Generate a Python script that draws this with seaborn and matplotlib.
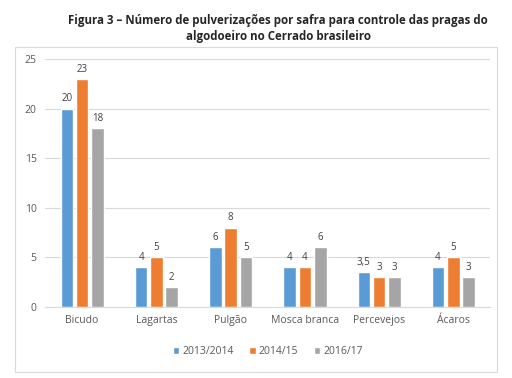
import pandas as pd
import seaborn as sns
import matplotlib.pyplot as plt
from matplotlib.patches import Rectangle

# Data
pragas = ['Bicudo', 'Lagartas', 'Pulgão', 'Mosca branca', 'Percevejos', 'Ácaros']
safras = ['2013/2014', '2014/15', '2016/17']
s2013 = [20, 4, 6, 4, 3.5, 4]
s2014 = [23, 5, 8, 4, 3, 5]
s2016 = [18, 2, 5, 6, 3, 3]
cores = ['#5B9BD5', '#ED7D31', '#A5A5A5']

df = pd.DataFrame({'Praga': pragas * 3,
                   'Safra': [s for s in safras for _ in pragas],
                   'Valor': s2013 + s2014 + s2016})

sns.set_style('white')
plt.rcParams['font.family'] = ['Open Sans', 'DejaVu Sans']

fig = plt.figure(figsize=(5.12, 3.78), dpi=100)
ax = fig.add_axes([0.088, 0.188, 0.87, 0.656])

sns.barplot(data=df, x='Praga', y='Valor', hue='Safra', palette=cores,
            saturation=1, width=0.62, gap=0.18, ax=ax, legend=True)

# data labels with comma decimal separator
for cont in ax.containers:
    labels = [f'{v:g}'.replace('.', ',') for v in cont.datavalues]
    ax.bar_label(cont, labels=labels, padding=3, fontsize=7, color='#404040')

ax.set_ylim(0, 25)
ax.set_yticks(range(0, 26, 5))
ax.yaxis.grid(True, color='#D9D9D9', linewidth=0.8)
ax.set_axisbelow(True)
for s in ['top', 'right', 'left']:
    ax.spines[s].set_visible(False)
ax.spines['bottom'].set_color('#D9D9D9')
ax.set_xlabel('')
ax.set_ylabel('')
ax.tick_params(axis='both', labelsize=7.5, colors='#595959', length=0, pad=6)

ax.legend(loc='upper center', bbox_to_anchor=(0.5, -0.12), ncol=3, frameon=False,
          fontsize=7.5, handlelength=0.6, handleheight=0.6, handletextpad=0.3,
          columnspacing=1.5, labelcolor='#595959')

# chart border
fig.patches.append(Rectangle((15 / 512, 6 / 378), 482 / 512, 325 / 378,
                             transform=fig.transFigure, fill=False,
                             edgecolor='#D9D9D9', linewidth=0.8))

fig.text(0.543, 0.962, 'Figura 3 – Número de pulverizações por safra para controle das pragas do\n'
         'algodoeiro no Cerrado brasileiro', ha='center', va='top',
         fontsize=8.3, fontweight='bold', linespacing=1.25)

plt.savefig('out.png', dpi=100)
